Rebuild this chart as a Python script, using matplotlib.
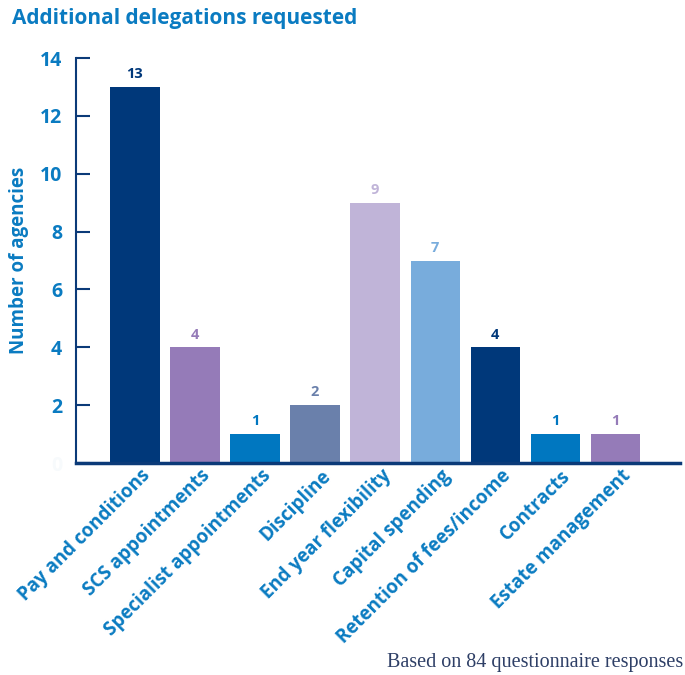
import matplotlib.pyplot as plt
from matplotlib.transforms import ScaledTranslation

# Delegations requested by agencies
categories = ['Pay and conditions', 'SCS appointments', 'Specialist appointments',
              'Discipline', 'End year flexibility', 'Capital spending',
              'Retention of fees/income', 'Contracts', 'Estate management']
counts = [13, 4, 1, 2, 9, 7, 4, 1, 1]
colors = ['#00387a', '#957bb8', '#0077c0', '#6a80ab', '#c0b4d8',
          '#78acdc', '#00387a', '#0077c0', '#957bb8']
yticks = [0, 2, 4, 6, 8, 10, 12, 14]

blue = '#0a7bc1'
navy = '#0b3a78'
font = 'Open Sans'

fig = plt.figure(figsize=(6.85, 6.75), dpi=100)
ax = fig.add_axes([0.111, 0.314, 0.882, 0.600])

x = list(range(len(categories)))
ax.bar(x, counts, width=0.82, color=colors, zorder=2)
for xi, v, c in zip(x, counts, colors):
    ax.text(xi, v + 0.2, str(v), ha='center', va='bottom', color=c,
            fontsize=10.5, fontweight='bold', family=font)

ax.set_xlim(-0.98, 9.08)
ax.set_ylim(0, 14)
ax.set_yticks(yticks)
ax.set_yticklabels([str(t) for t in yticks],
                   fontsize=14, fontweight='bold', family=font, color=blue)
ax.get_yticklabels()[0].set_color('#f7fafc')
ax.tick_params(axis='y', direction='in', length=10, width=1.5, color=navy, pad=10)

ax.set_xticks(x)
ax.set_xticklabels(categories, rotation=45, ha='right', va='top',
                   rotation_mode='anchor', fontsize=13.5, fontweight='bold',
                   family=font, color=blue)
ax.tick_params(axis='x', length=0, pad=2)
shift = ScaledTranslation(4 / 72, 0, fig.dpi_scale_trans)
for lbl in ax.get_xticklabels():
    lbl.set_transform(lbl.get_transform() + shift)

for s in ['top', 'right']:
    ax.spines[s].set_visible(False)
ax.spines['left'].set_color(navy)
ax.spines['left'].set_linewidth(1.5)
ax.spines['bottom'].set_color(navy)
ax.spines['bottom'].set_linewidth(2.5)

ax.set_ylabel('Number of agencies', fontsize=13.5, fontweight='bold',
              family=font, color=blue, labelpad=8)

fig.text(0.017, 0.972, 'Additional delegations requested', ha='left', va='center',
         fontsize=15, fontweight='bold', family=font, color=blue)
fig.text(0.997, 0.018, 'Based on 84 questionnaire responses', ha='right', va='center',
         fontsize=14.5, family='Liberation Serif', color='#2e3f66')

fig.savefig('out.png', dpi=100)
